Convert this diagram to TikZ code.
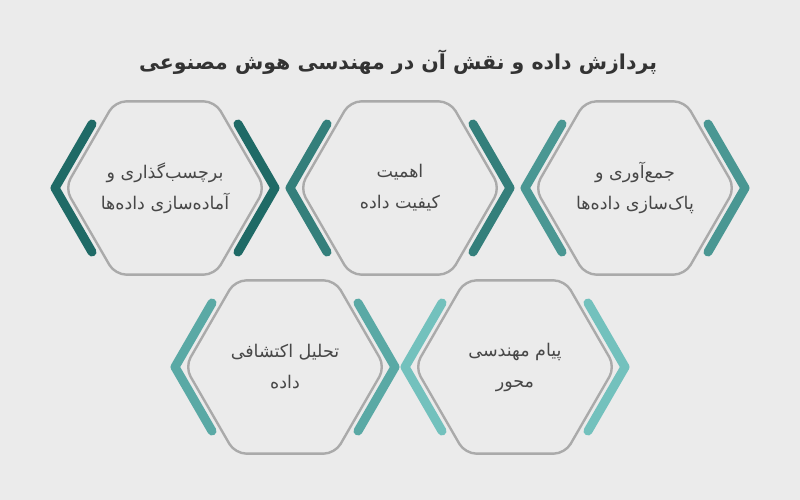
\documentclass[tikz,border=0pt]{standalone}
\usepackage{fontspec}
\newfontfamily\arabicfont[Script=Arabic]{DejaVu Sans}
\TeXXeTstate=1
\usetikzlibrary{shapes.geometric}
\definecolor{bg}{HTML}{EBEBEB}
\definecolor{hexline}{HTML}{AAAAAA}
\definecolor{txt}{HTML}{474747}
\definecolor{ttl}{HTML}{333333}
\definecolor{cA}{HTML}{1F6A66}
\definecolor{cB}{HTML}{347F7B}
\definecolor{cC}{HTML}{4A9793}
\definecolor{cD}{HTML}{5AA9A5}
\definecolor{cE}{HTML}{73C1BD}
\tikzset{
  hexbox/.style={regular polygon, regular polygon sides=6, minimum size=200pt,
    inner sep=0pt, outer sep=0pt, draw=hexline, line width=2.4pt, rounded corners=11pt},
  hextext/.style={text=txt, align=center, inner sep=0pt,
    font=\arabicfont\fontsize{17.5}{31}\selectfont},
  chev/.style={line width=9pt, line cap=round, line join=round},
}
\begin{document}
\begin{tikzpicture}[x=1pt,y=-1pt]
\fill[bg] (0,0) rectangle (800,500);
\useasboundingbox (0,0) rectangle (800,500);
\node[text=ttl, font=\arabicfont\bfseries\fontsize{20.5}{24}\selectfont] (title) at (398,62)
  {\beginR پردازش داده و نقش آن در مهندسی هوش مصنوعی\endR};
\node[hexbox] (h1) at (635,188) {};
\node[hexbox] (h2) at (400,188) {};
\node[hexbox] (h3) at (165,188) {};
\node[hexbox] (h4) at (515,367) {};
\node[hexbox] (h5) at (285,367) {};
\node[hextext] (t1) at (h1) {\beginR جمع‌آوری و\endR\\\beginR پاک‌سازی داده‌ها\endR};
\node[hextext] (t2) at (h2) {\beginR اهمیت\endR\\\beginR کیفیت داده\endR};
\node[hextext] (t3) at (h3) {\beginR برچسب‌گذاری و\endR\\\beginR آماده‌سازی داده‌ها\endR};
\node[hextext] (t4) at (h4) {\beginR پیام مهندسی\endR\\\beginR محور\endR};
\node[hextext] (t5) at (h5) {\beginR تحلیل اکتشافی\endR\\\beginR داده\endR};
\foreach \h/\c in {h1/cC,h2/cB,h3/cA,h4/cE,h5/cD}{
  \draw[chev, draw=\c, shift={(\h)}] (-73,-64) -- (-110,0) -- (-73,64);
  \draw[chev, draw=\c, shift={(\h)}] (73,-64) -- (110,0) -- (73,64);
}
\end{tikzpicture}
\end{document}
